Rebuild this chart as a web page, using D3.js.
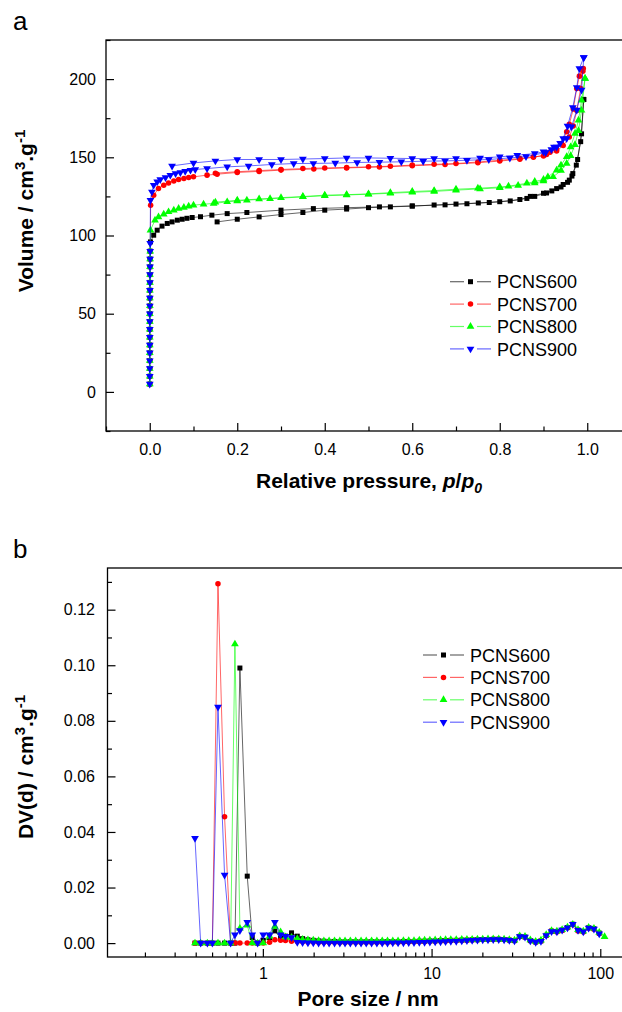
<!DOCTYPE html>
<meta charset="utf-8">
<head>
<style>
  body { margin: 0; background: #fff; }
  text { font-family: "Liberation Sans", Arial, sans-serif; fill: #000; }
  .axis line { stroke: #000; stroke-width: 1.2px; }
  .axis text { font-size: 16px; }
  .title { font-size: 21px; font-weight: bold; }
  .legend text { font-size: 18px; }
</style>
</head>
<body>
<svg width="622" height="1012"></svg>
<script src="https://d3js.org/d3.v7.min.js"></script>
<script>

var names = ["PCNS600", "PCNS700", "PCNS800", "PCNS900"];
var colors = ["#000000", "#ff0000", "#00ff00", "#0000ff"];

// ---- panel a: N2 isotherms (p/p0, volume) ----
// common low-pressure stack (all samples step through the same doses at p ~ 0)
var lowP = [0.00001, 0.00002, 0.00003, 0.00004, 0.00005, 0.00006, 0.00008, 0.0001, 0.00012,
            0.00015, 0.0002, 0.00025, 0.0003, 0.0004, 0.0005, 0.0006, 0.0008, 0.001];
var lowV = [5, 10, 15, 20, 25, 30, 35, 40, 45, 50, 55, 60, 65, 70, 75, 80, 85, 90];

var ads600 = [[0.0016,95.9],[0.009,100.2],[0.017,103.4],[0.028,106],[0.04,107.7],[0.051,108.7],[0.063,109.8],
  [0.074,110.4],[0.085,111],[0.097,111.5],[0.116,112],[0.142,113],[0.177,114],[0.222,114.7],[0.3,116.2],
  [0.374,117.2],[0.45,117.8],[0.525,118.3],[0.6,118.9],[0.675,119.6],[0.725,120.3],[0.776,121.1],[0.824,122.1],
  [0.862,123.7],[0.88,125],[0.907,127.2],[0.93,130],[0.945,132.6],[0.959,135.4],[0.967,139.6],[0.978,148.6],
  [0.987,165],[0.992,187]];
var des600 = [[0.992,187],[0.985,160],[0.975,145],[0.965,138],[0.955,134],[0.94,131],[0.919,128.5],[0.9,127],
  [0.87,125],[0.846,123],[0.8,121.6],[0.751,120.8],[0.7,120.1],[0.65,119.5],[0.6,118.8],[0.55,118.3],[0.5,117.8],
  [0.45,116.9],[0.4,116.2],[0.35,114.7],[0.3,113.4],[0.25,111.9],[0.2,110.4],[0.154,108.7]];

var ads700 = [[0.002,119.4],[0.009,125.8],[0.02,130],[0.032,132.2],[0.043,133.6],[0.055,134.9],[0.066,135.8],
  [0.078,136.4],[0.089,137.1],[0.1,137.5],[0.131,138.6],[0.154,139.2],[0.2,140.3],[0.25,141],[0.3,141.8],
  [0.375,142.5],[0.45,143.2],[0.525,143.8],[0.6,144.6],[0.675,145.4],[0.75,146.5],[0.8,147.6],[0.846,148.8],
  [0.877,150],[0.907,151.8],[0.93,154],[0.945,157.5],[0.959,163],[0.968,170],[0.976,180],[0.985,194],[0.99,205]];
var des700 = [[0.991,206.8],[0.982,201.9],[0.976,194],[0.968,180.9],[0.959,171.1],[0.953,166.3],[0.941,158.8],
  [0.93,155],[0.915,153.3],[0.9,150.8],[0.877,150.3],[0.846,149.2],[0.8,148.1],[0.75,147],[0.7,146],[0.65,145.5],
  [0.6,145],[0.55,144.3],[0.5,143.9],[0.45,143.5],[0.4,143.2],[0.35,142.8],[0.3,142.2],[0.25,141.5],[0.2,140.8],
  [0.15,139.8]];

var ads800 = [[0.0016,103.4],[0.012,109.8],[0.02,111.9],[0.032,113.6],[0.043,115.1],[0.055,116.2],[0.066,117.3],
  [0.078,117.9],[0.089,118.7],[0.1,119.4],[0.123,120],[0.146,120.5],[0.177,121.5],[0.2,122.1],[0.222,122.6],
  [0.275,123.5],[0.35,124.7],[0.4,125.4],[0.45,125.9],[0.5,126.4],[0.55,127],[0.6,127.6],[0.65,128.2],[0.7,129],
  [0.755,129.8],[0.8,130.5],[0.842,132],[0.88,133.5],[0.9,134.8],[0.922,137.5],[0.94,141.5],[0.953,146],
  [0.962,151],[0.972,158],[0.98,167],[0.987,180],[0.995,200.4]];
var des800 = [[0.995,200.4],[0.987,186.5],[0.98,173.7],[0.972,165.2],[0.962,156.6],[0.953,150.3],[0.94,145],
  [0.93,141.7],[0.91,137.5],[0.9,135.8],[0.88,134.5],[0.862,133.4],[0.82,131.5],[0.8,131],[0.75,130.2],[0.7,129.6],
  [0.65,128.7],[0.6,128.1],[0.55,127.4],[0.5,126.6],[0.45,126.1],[0.4,125.8],[0.35,124.9],[0.3,124.2],[0.25,123.3],
  [0.2,122.5],[0.15,121.3]];

var ads900 = [[0.001,95],[0.0016,122.6],[0.005,127.9],[0.009,132.2],[0.017,134.3],[0.024,135.8],[0.036,137.1],
  [0.047,138.6],[0.059,139.6],[0.07,140.3],[0.081,141.1],[0.093,141.8],[0.104,142.2],[0.131,142.8],[0.177,143.9],
  [0.226,144.5],[0.279,145.4],[0.329,146],[0.374,146.1],[0.424,146.3],[0.474,146.7],[0.525,146.9],[0.575,147.1],
  [0.625,147.5],[0.675,147.7],[0.725,148.1],[0.775,148.6],[0.823,149.6],[0.86,150.5],[0.905,153],[0.924,156.6],
  [0.938,159],[0.953,162],[0.964,169.5],[0.976,180.2],[0.987,193],[0.992,213.8]];
var des900 = [[0.992,213.8],[0.982,206.8],[0.976,194.7],[0.967,181.9],[0.955,170],[0.945,162],[0.93,156.6],
  [0.918,155],[0.9,153.5],[0.88,152.4],[0.84,151.3],[0.8,150.3],[0.755,149.6],[0.7,149.3],[0.65,149.2],[0.6,149.2],
  [0.55,149.4],[0.5,149.6],[0.45,149.6],[0.4,149.2],[0.35,148.9],[0.3,148.6],[0.25,148.6],[0.2,148.6],[0.15,147.7],
  [0.1,146.4],[0.051,144.5]];

var xTicksA = [0, 0.2, 0.4, 0.6, 0.8, 1.0];
var xMinorA = [-0.1, 0.1, 0.3, 0.5, 0.7, 0.9];
var yTicksA = [0, 50, 100, 150, 200];
var yMinorA = [-25, 25, 75, 125, 175, 225];

// ---- panel b: pore size distribution ----
var poreSize = [0.396, 0.428, 0.469, 0.502, 0.542, 0.593, 0.644, 0.683, 0.731, 0.808,
  0.865, 0.931, 1.005, 1.096, 1.178, 1.274, 1.362, 1.479, 1.60, 1.72,
  1.85, 1.99, 2.14, 2.30, 2.47, 2.66, 2.86, 3.07, 3.30, 3.55,
  3.82, 4.10, 4.41, 4.74, 5.10, 5.48, 5.89, 6.33, 6.81, 7.32,
  7.87, 8.46, 9.09, 9.77, 10.5, 11.3, 12.1, 13.0, 14.0, 15.1,
  16.2, 17.4, 18.7, 20.1, 21.6, 23.2, 25.0, 26.9, 28.9, 31.0,
  33.3, 35.8, 38.5, 41.4, 44.5, 47.8, 51.4, 55.3, 59.4, 63.9,
  68.7, 73.8, 79.3, 85.3, 91.7, 98.6, 106];

var dv600 = [0, 0, 0, 0, 0, 0, 0, 0, 0.099, 0.0241,
  0.002, 0, 0.001, 0.002, 0.0044, 0.0017, 0.0025, 0.0037, 0.0025, 0.0016,
  0.0012, 0.001, 0.0008, 0.0007, 0.0006, 0.0006, 0.0005, 0.0005, 0.0005, 0.0005,
  0.0005, 0.0005, 0.0005, 0.0005, 0.0005, 0.0005, 0.0005, 0.0005, 0.0006, 0.0006,
  0.0006, 0.0007, 0.0007, 0.0008, 0.0008, 0.0009, 0.0009, 0.0010, 0.0010, 0.0011,
  0.0011, 0.0012, 0.0012, 0.0013, 0.0013, 0.0014, 0.0014, 0.0013, 0.0011, 0.0009,
  0.0024, 0.0022, 0.0009, 0.0004, 0.0008, 0.0028, 0.0043, 0.0042, 0.0047, 0.0056,
  0.0068, 0.0047, 0.0042, 0.0055, 0.0052, 0.0036, null];
var dv700 = [0, 0, 0, 0, 0.1293, 0.0455, 0, 0, 0, 0,
  0, 0, 0, 0.0003, 0.0012, 0.001, 0.0009, 0.0007, 0.0006, 0.0005,
  0.0004, 0.0004, 0.0003, 0.0003, 0.0003, 0.0003, 0.0003, 0.0003, 0.0003, 0.0003,
  0.0003, 0.0003, 0.0003, 0.0003, 0.0003, 0.0003, 0.0004, 0.0004, 0.0004, 0.0005,
  0.0005, 0.0006, 0.0006, 0.0007, 0.0007, 0.0008, 0.0008, 0.0009, 0.0009, 0.0010,
  0.0010, 0.0011, 0.0012, 0.0013, 0.0013, 0.0014, 0.0014, 0.0013, 0.0011, 0.0009,
  0.0025, 0.0022, 0.0009, 0.0004, 0.0008, 0.0028, 0.0044, 0.0040, 0.0045, 0.0055,
  0.0066, 0.0044, 0.0040, 0.0054, 0.0050, 0.0035, null];
var dv800 = [0, 0, 0, 0, 0, 0, 0, 0.1076, 0.0053, 0.0064,
  0, 0, 0, 0.0025, 0.006, 0.004, 0.0022, 0.002, 0.0016, 0.0013,
  0.0011, 0.001, 0.0009, 0.0008, 0.0008, 0.0008, 0.0008, 0.0008, 0.0008, 0.0008,
  0.0008, 0.0008, 0.0008, 0.0008, 0.0008, 0.0008, 0.0008, 0.0008, 0.0009, 0.0009,
  0.0009, 0.0010, 0.0010, 0.0010, 0.0011, 0.0011, 0.0012, 0.0012, 0.0012, 0.0013,
  0.0013, 0.0013, 0.0014, 0.0014, 0.0015, 0.0015, 0.0015, 0.0014, 0.0012, 0.0010,
  0.0026, 0.0024, 0.0011, 0.0006, 0.0010, 0.0030, 0.0045, 0.0043, 0.0048, 0.0057,
  0.0067, 0.0048, 0.0043, 0.0056, 0.0053, 0.0038, 0.0023];
var dv900 = [0.0377, 0, 0, 0, 0.085, 0.0245, 0, 0.003, 0.0045, 0.0075,
  0.003, 0, 0.003, 0.003, 0.0075, 0.003, 0.0025, 0.002, 0.0003, 0.0002,
  0.0001, 0.0001, 0, 0, 0, 0, 0, 0, 0, 0,
  0, 0, 0, 0, 0, 0, 0.0001, 0.0001, 0.0001, 0.0002,
  0.0002, 0.0003, 0.0003, 0.0004, 0.0005, 0.0005, 0.0006, 0.0007, 0.0007, 0.0008,
  0.0009, 0.0010, 0.0011, 0.0012, 0.0012, 0.0013, 0.0013, 0.0012, 0.0010, 0.0008,
  0.0024, 0.0022, 0.0008, 0.0003, 0.0007, 0.0027, 0.0042, 0.0041, 0.0047, 0.0055,
  0.0068, 0.0046, 0.0041, 0.0054, 0.0051, 0.0034, null];

var xTicksB = [1, 10, 100];
var xMinorB = [0.2, 0.3, 0.4, 0.5, 0.6, 0.7, 0.8, 0.9, 2, 3, 4, 5, 6, 7, 8, 9,
               20, 30, 40, 50, 60, 70, 80, 90];
var yTicksB = [0, 0.02, 0.04, 0.06, 0.08, 0.10, 0.12];
var yMinorB = [0.01, 0.03, 0.05, 0.07, 0.09, 0.11, 0.13];

var svg = d3.select("svg");

var symbols = [d3.symbolSquare, d3.symbolCircle, d3.symbolTriangle, d3.symbolTriangle];
var symSize = [25, 24, 26, 26];

function drawSeries(g, x, y, pts, i, withLine) {
    if (withLine) {
        var line = d3.line().x(function (d) { return x(d[0]); }).y(function (d) { return y(d[1]); });
        g.append("path")
            .attr("d", line(pts))
            .attr("fill", "none")
            .attr("stroke", colors[i])
            .attr("stroke-opacity", 0.6)
            .attr("stroke-width", 1);
    }
    g.append("g").selectAll("path")
        .data(pts)
        .enter().append("path")
        .attr("d", d3.symbol().type(symbols[i]).size(symSize[i]))
        .attr("fill", colors[i])
        .attr("transform", function (d) {
            return "translate(" + x(d[0]) + "," + y(d[1]) + ")" + (i == 3 ? " rotate(180)" : "");
        });
}

function drawFrame(x0, y0, x1, y1) {
    svg.append("rect")
        .attr("x", x0).attr("y", y0)
        .attr("width", x1 - x0).attr("height", y1 - y0)
        .attr("fill", "none").attr("stroke", "#000").attr("stroke-width", 1.3);
}

function axes(x, y, box, opt) {
    var gx = svg.append("g").attr("class", "axis").attr("transform", "translate(0," + box.y1 + ")");
    gx.call(d3.axisBottom(x).tickValues(opt.xTicks).tickSize(-8).tickSizeOuter(0)
        .tickPadding(opt.xPad).tickFormat(opt.xFmt));
    svg.append("g").attr("class", "axis").attr("transform", "translate(0," + box.y1 + ")")
        .call(d3.axisBottom(x).tickValues(opt.xMinor).tickSize(-4.5).tickSizeOuter(0).tickFormat(""));
    var gy = svg.append("g").attr("class", "axis").attr("transform", "translate(" + box.x0 + ",0)");
    gy.call(d3.axisLeft(y).tickValues(opt.yTicks).tickSize(-8).tickSizeOuter(0)
        .tickPadding(opt.yPad).tickFormat(opt.yFmt));
    svg.append("g").attr("class", "axis").attr("transform", "translate(" + box.x0 + ",0)")
        .call(d3.axisLeft(y).tickValues(opt.yMinor).tickSize(-4.5).tickSizeOuter(0).tickFormat(""));
    svg.selectAll(".axis .domain").remove();
}

function legend(x0, y0, step) {
    var lg = svg.append("g").attr("class", "legend");
    names.forEach(function (n, i) {
        var yy = y0 + i * step;
        [[x0, x0 + 14], [x0 + 27, x0 + 41]].forEach(function (s) {
            lg.append("line")
                .attr("x1", s[0]).attr("x2", s[1]).attr("y1", yy).attr("y2", yy)
                .attr("stroke", colors[i]).attr("stroke-opacity", 0.6).attr("stroke-width", 1.2);
        });
        lg.append("path")
            .attr("d", d3.symbol().type(symbols[i]).size(symSize[i]))
            .attr("fill", colors[i])
            .attr("transform", "translate(" + (x0 + 20.5) + "," + yy + ")" + (i == 3 ? " rotate(180)" : ""));
        lg.append("text").attr("x", x0 + 47).attr("y", yy + 6.6).text(n);
    });
}

function yTitle(cx, cy, main) {
    var t = svg.append("text").attr("class", "title")
        .attr("transform", "translate(" + cx + "," + cy + ") rotate(-90)")
        .attr("text-anchor", "middle");
    t.append("tspan").text(main + " / cm");
    t.append("tspan").attr("dy", -8).style("font-size", "15px").text("3");
    t.append("tspan").attr("dy", 8).text(".g");
    t.append("tspan").attr("dy", -8).style("font-size", "15px").text("-1");
}

// ================= panel a =================
var boxA = { x0: 106, y0: 40, x1: 631, y1: 431 };
var xA = d3.scaleLinear().domain([-0.1, 1.1]).range([boxA.x0, boxA.x1]);
var yA = d3.scaleLinear().domain([-25, 225]).range([boxA.y1, boxA.y0]);

var lowStack = lowP.map(function (p, k) { return [p, lowV[k]]; });
var adsA = [ads600, ads700, ads800, ads900];
var desA = [des600, des700, des800, des900];
var gA = svg.append("g");
names.forEach(function (n, i) {
    drawSeries(gA, xA, yA, lowStack.concat(adsA[i]), i, true);
    drawSeries(gA, xA, yA, desA[i], i, true);
});

drawFrame(boxA.x0, boxA.y0, boxA.x1, boxA.y1);
axes(xA, yA, boxA, {
    xTicks: xTicksA, xMinor: xMinorA, yTicks: yTicksA, yMinor: yMinorA,
    xPad: 13, yPad: 10, xFmt: d3.format(".1f"), yFmt: d3.format("d")
});
legend(450, 281.7, 22.4);

svg.append("text").attr("x", 13).attr("y", 30).style("font-size", "26px").text("a");
yTitle(33, 211, "Volume");
var xtA = svg.append("text").attr("class", "title").attr("x", 369).attr("y", 488).attr("text-anchor", "middle");
xtA.append("tspan").text("Relative pressure, ");
xtA.append("tspan").style("font-style", "italic").text("p");
xtA.append("tspan").text("/");
xtA.append("tspan").style("font-style", "italic").text("p");
xtA.append("tspan").style("font-style", "italic").style("font-size", "14px").attr("dy", 5).text("0");

// ================= panel b =================
var boxB = { x0: 107.5, y0: 568, x1: 630, y1: 957 };
var xB = d3.scaleLog().domain([0.12, 150]).range([boxB.x0, boxB.x1]);
var yB = d3.scaleLinear().domain([-0.005, 0.135]).range([boxB.y1, boxB.y0]);

var dvB = [dv600, dv700, dv800, dv900];
var gB = svg.append("g");
names.forEach(function (n, i) {
    var pts = poreSize.map(function (s, k) { return [s, dvB[i][k]]; })
        .filter(function (d) { return d[1] != null; });
    drawSeries(gB, xB, yB, pts, i, true);
});

drawFrame(boxB.x0, boxB.y0, boxB.x1, boxB.y1);
axes(xB, yB, boxB, {
    xTicks: xTicksB, xMinor: xMinorB, yTicks: yTicksB, yMinor: yMinorB,
    xPad: 10.5, yPad: 12.5, xFmt: d3.format("d"), yFmt: d3.format(".2f")
});
legend(423, 655, 22.4);

svg.append("text").attr("x", 13).attr("y", 558).style("font-size", "26px").text("b");
yTitle(33, 767, "DV(d)");
svg.append("text").attr("class", "title").attr("x", 368).attr("y", 1006)
    .attr("text-anchor", "middle").text("Pore size / nm");

</script>
</body>
